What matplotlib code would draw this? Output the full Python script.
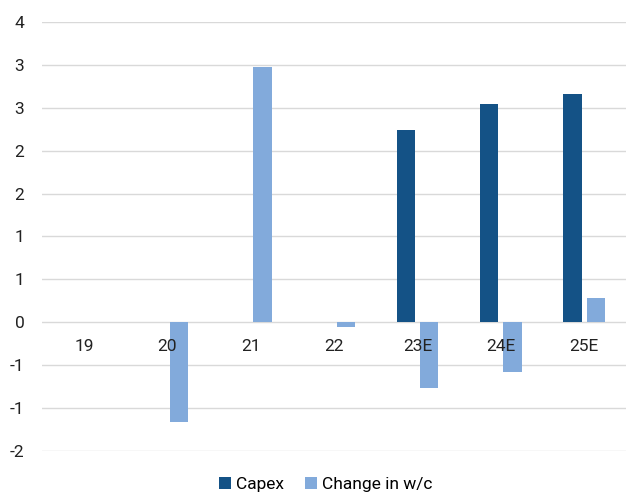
import math
import matplotlib
matplotlib.use("Agg")
import matplotlib.pyplot as plt
from matplotlib.ticker import FuncFormatter, MultipleLocator

plt.rcParams['font.family'] = ['Roboto', 'DejaVu Sans']

# data
years = ['19', '20', '21', '22', '23E', '24E', '25E']
capex = [0, 0, 0, 0, 2.24, 2.54, 2.66]
change_wc = [0, -1.16, 2.97, -0.05, -0.76, -0.58, 0.28]

col_capex = '#145286'
col_wc = '#82aadb'


def excel_round(v, pos):
    # labels shown with no decimals, half away from zero
    r = math.floor(abs(v) + 0.5)
    if v < 0 and r != 0:
        return '-%d' % r
    return '%d' % r


fig = plt.figure(figsize=(6.26, 4.93), dpi=100)
ax = fig.add_axes([0.0676, 0.0852, 0.9324, 0.8702])

x = list(range(len(years)))
w = 0.22
off = 0.14
ax.bar([i - off for i in x], capex, width=w, color=col_capex,
       linewidth=0, label='Capex', zorder=3)
ax.bar([i + off for i in x], change_wc, width=w, color=col_wc,
       linewidth=0, label='Change in w/c', zorder=3)

ax.set_xlim(-0.5, len(years) - 0.5)
ax.set_ylim(-1.5, 3.5)
ax.yaxis.set_major_locator(MultipleLocator(0.5))
ax.yaxis.set_major_formatter(FuncFormatter(excel_round))
ax.grid(axis='y', color='#d9d9d9', linewidth=1, zorder=0)
ax.set_axisbelow(True)
for s in ax.spines.values():
    s.set_visible(False)
ax.tick_params(axis='y', length=0, pad=13, labelsize=12.5, labelcolor='#222222')
ax.set_xticks([])

# category labels sit just under the zero line
for i, lab in enumerate(years):
    ax.annotate(lab, (i, 0), xytext=(0, -12), textcoords='offset points',
                ha='center', va='top', fontsize=12.5, color='#222222')

leg = fig.legend(loc='lower center', bbox_to_anchor=(0.52, -0.03), ncol=2,
                 frameon=False, fontsize=12.5, handlelength=0.7,
                 handleheight=0.7, handletextpad=0.3, columnspacing=1.2)

fig.savefig('out.png', dpi=100)
